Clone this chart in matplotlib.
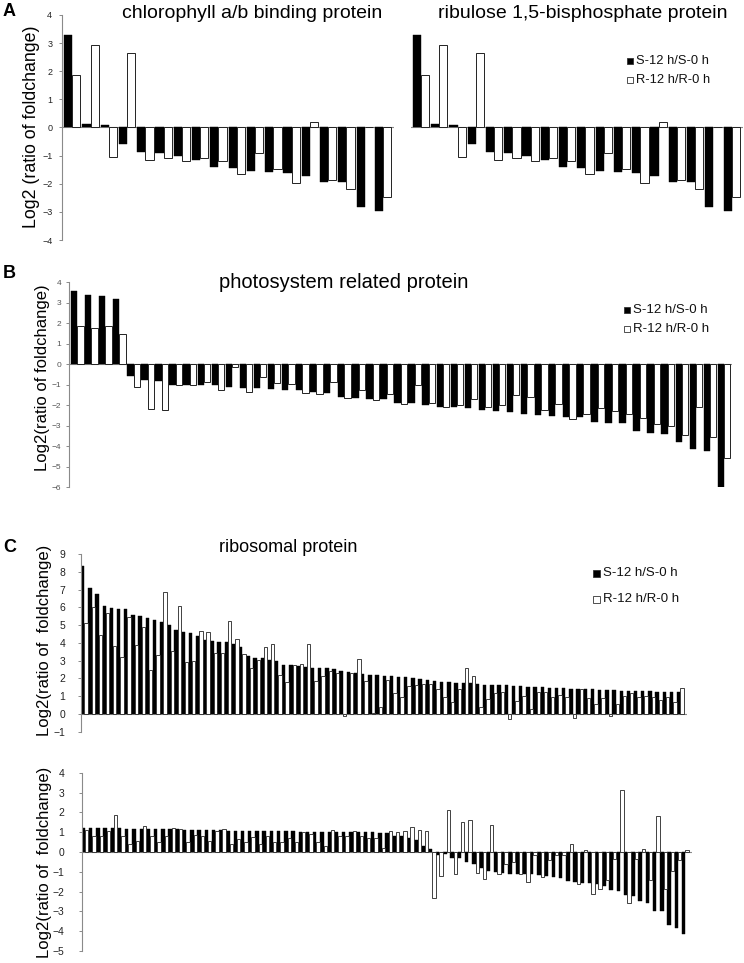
import matplotlib
matplotlib.use("Agg")
import matplotlib.pyplot as plt
from matplotlib.patches import Rectangle
import numpy as np

plt.rcParams['font.family'] = ['Liberation Sans', 'DejaVu Sans']

# ---------------- data ----------------
legend_labels = ["S-12 h/S-0 h", "R-12 h/R-0 h"]

A_titles = ["chlorophyll a/b binding protein", "ribulose 1,5-bisphosphate protein"]
A_s = [3.29, 0.12, 0.08, -0.57, -0.87, -0.92, -1.02, -1.16, -1.42, -1.45, -1.54, -1.59,
       -1.61, -1.72, -1.93, -1.95, -2.84, -2.96]
A_r = [1.85, 2.93, -1.05, 2.65, -1.14, -1.09, -1.18, -1.07, -1.18, -1.64, -0.92, -1.47,
       -1.99, 0.18, -1.85, -2.17, 0.03, -2.46]

B_title = "photosystem related protein"
B_s = [3.54, 3.36, 3.31, 3.15, -0.60, -0.78, -0.82, -1.00, -1.03, -1.04, -1.04, -1.14,
       -1.16, -1.16, -1.20, -1.27, -1.29, -1.39, -1.40, -1.60, -1.66, -1.71,
       -1.73, -1.89, -1.89, -2.02, -2.09, -2.12, -2.17, -2.22, -2.28, -2.33, -2.45, -2.48,
       -2.54, -2.58, -2.58, -2.82, -2.87, -2.89, -3.25, -3.38, -3.43, -3.82, -4.13, -4.26, -6.08]
B_r = [1.83, 1.78, 1.84, 1.45, -1.10, -2.20, -2.25, -1.04, -1.00, -0.88, -1.27, -0.13,
       -1.37, -0.65, -0.95, -0.98, -1.43, -1.48, -0.88, -1.66, -1.27, -1.76,
       -1.48, -1.97, -1.04, -1.92, -2.09, -2.02, -1.70, -2.12, -2.02, -1.52, -1.60, -2.25,
       -1.96, -2.66, -2.45, -2.14, -2.28, -2.45, -2.61, -2.94, -3.00, -3.44, -2.10, -3.57, -4.57]

C_title = "ribosomal protein"
C1_s = [8.30, 7.07, 6.73, 6.10, 5.97, 5.91, 5.89, 5.57, 5.52, 5.38, 5.29, 5.20, 5.03, 4.73,
        4.61, 4.58, 4.39, 4.15, 4.13, 4.07, 4.07, 3.92, 3.79, 3.26, 3.15, 3.15, 3.04, 3.00,
        2.76, 2.76, 2.70, 2.63, 2.59, 2.59, 2.57, 2.53, 2.44, 2.38, 2.29, 2.25, 2.20, 2.18,
        2.16, 2.14, 2.10, 2.06, 2.00, 1.97, 1.91, 1.88, 1.78, 1.78, 1.76, 1.76, 1.73, 1.67,
        1.63, 1.63, 1.60, 1.60, 1.58, 1.58, 1.54, 1.54, 1.50, 1.44, 1.44, 1.44, 1.39, 1.39,
        1.39, 1.39, 1.35, 1.35, 1.35, 1.31, 1.31, 1.31, 1.29, 1.29, 1.26, 1.26, 1.26, 1.26]
C1_r = [5.10, 6.04, 4.43, 5.67, 3.83, 3.19, 5.44, 3.90, 4.88, 2.48, 3.32, 6.85, 3.56, 6.08,
        2.91, 3.00, 4.65, 4.61, 3.41, 3.41, 5.25, 4.20, 3.36, 2.61, 3.04, 3.75, 3.92, 2.20,
        1.82, 2.76, 2.80, 3.92, 1.88, 2.14, 2.40, 2.33, -0.10, 2.29, 3.08, 1.88, 0.05, 0.38,
        1.91, 1.20, 0.94, 1.58, 1.63, 1.69, 1.69, 1.39, 0.98, 0.68, 1.39, 2.57, 2.14, 0.41,
        0.83, 1.20, 1.26, -0.30, 0.75, 1.01, 0.26, 1.26, 1.26, 0.98, 1.07, 0.98, -0.24, 1.39,
        0.88, 0.56, 0.88, -0.10, 0.56, 1.01, 1.20, 0.94, 1.01, 0.98, 0.79, 0.94, 0.68, 1.48]

C2_s = [1.21, 1.21, 1.21, 1.21, 1.21, 1.21, 1.18, 1.18, 1.18, 1.15, 1.15, 1.15, 1.15, 1.15,
        1.13, 1.11, 1.11, 1.09, 1.09, 1.09, 1.08, 1.08, 1.08, 1.06, 1.06, 1.06, 1.04, 1.04,
        1.04, 1.04, 1.03, 1.03, 1.03, 1.01, 1.01, 1.01, 1.01, 1.01, 0.99, 0.99,
        1.00, 0.98, 0.96, 0.82, 0.82, 0.72, 0.62, 0.32, 0.15, -0.13, -0.12, -0.29, -0.29,
        -0.52, -0.59, -0.79, -0.98, -1.03, -1.06, -1.09, -1.13, -1.13, -1.13, -1.18, -1.20,
        -1.26, -1.30, -1.46, -1.52, -1.57, -1.57, -1.63, -1.73, -1.94, -1.99, -2.17, -2.21,
        -2.47, -2.56, -2.98, -2.98, -3.70, -3.82, -4.16]
C2_r = [1.09, 0.79, 0.79, 1.04, 1.85, 0.82, 0.39, 0.56, 1.31, 0.82, 0.49, 0.82, 1.23, 1.18,
        0.49, 0.84, 0.79, 0.54, 1.06, 1.16, 0.39, 0.66, 0.52, 0.76, 0.42, 0.82, 0.52, 0.49,
        0.71, 0.49, 1.01, 0.89, 0.50, 0.29, 1.13, 0.79, 0.82, 1.06, 0.82, 0.69,
        0.72, 0.22, 1.04, 1.00, 1.04, 1.28, 1.11, 1.08, -2.30, -1.20, 2.14, -1.09, 1.53,
        1.63, -1.04, -1.38, 1.36, -1.13, -0.59, -0.50, -1.13, -1.53, -0.13, -1.26, -0.42,
        -0.13, -0.17, 0.42, -1.63, 0.12, -2.14, -1.85, -1.40, -0.34, 3.11, -2.56, -0.34,
        0.15, -1.43, 1.82, -1.85, -0.96, -0.39, 0.08]

y_label_A = "Log2 (ratio of foldchange)"
y_label_B = "Log2(ratio of foldchange)"
y_label_C = "Log2(ratio of  foldchange)"

# ---------------- layout helpers ----------------
W, H = 744, 963
fig = plt.figure(figsize=(W / 100, H / 100), dpi=100)
AXC = '#8a8a8a'


def px_axes(left, top, right, bottom):
    return fig.add_axes([left / W, 1 - bottom / H, (right - left) / W, (bottom - top) / H])


def ftext(x, y, s, **kw):
    fig.text(x / W, 1 - y / H, s, **kw)


def draw_pairs(ax, s, r, w, lw_w=0.7):
    x = np.arange(len(s))
    ax.axhline(0, color=AXC, lw=0.8, zorder=1)
    ax.bar(x - w / 2, s, w, color='black', edgecolor='black', linewidth=0.3, zorder=2)
    ax.bar(x + w / 2, r, w, color='white', edgecolor='#222222', linewidth=lw_w, zorder=2)


def style_axis(ax, ylim, tsize, tcolor, pad, show_y=True):
    ax.set_ylim(*ylim)
    for sp in ['top', 'right', 'bottom']:
        ax.spines[sp].set_visible(False)
    ax.set_xticks([])
    if show_y:
        ax.spines['left'].set_color(AXC)
        ax.spines['left'].set_linewidth(0.8)
        ax.set_yticks(range(ylim[0], ylim[1] + 1))
        ax.tick_params(axis='y', direction='out', length=2.5, width=0.7, color=AXC,
                       labelsize=tsize, labelcolor=tcolor, pad=pad)
    else:
        ax.spines['left'].set_visible(False)
        ax.set_yticks([])
    ax.patch.set_alpha(0)


def legend(x_sq, y1, y2, size, fs, color='#111111'):
    for yy, fc in [(y1, 'black'), (y2, 'white')]:
        fig.add_artist(Rectangle(((x_sq) / W, 1 - (yy + size / 2) / H), size / W, size / H,
                                 transform=fig.transFigure, facecolor=fc,
                                 edgecolor='#333333', linewidth=0.6))
    ftext(x_sq + size + 3, y1, legend_labels[0], fontsize=fs, va='center', ha='left', color=color)
    ftext(x_sq + size + 3, y2, legend_labels[1], fontsize=fs, va='center', ha='left', color=color)


# ---------------- Panel A ----------------
for i, (l, r) in enumerate([(62, 394), (410.7, 742.7)]):
    ax = px_axes(l, 15, r, 240)
    draw_pairs(ax, A_s, A_r, 0.45)
    ax.set_xlim(-0.56, len(A_s) - 0.4)
    style_axis(ax, (-4, 4), 6.5, '#222222', 4.5, show_y=(i == 0))

ftext(252, 13, A_titles[0], fontsize=14, ha='center', va='center')
ftext(583, 13, A_titles[1], fontsize=14, ha='center', va='center')
ftext(3, 12, "A", fontsize=13, fontweight='bold', ha='left', va='center')
ftext(32, 127, y_label_A, fontsize=12.8, rotation=90, ha='center', va='center')
legend(627, 61, 80, 6, 9.3)

# ---------------- Panel B ----------------
ax = px_axes(69, 282, 731.8, 487)
draw_pairs(ax, B_s, B_r, 0.45)
ax.set_xlim(-0.59, len(B_s) - 0.45)
style_axis(ax, (-6, 4), 6, '#555555', 3)
ftext(344, 282, B_title, fontsize=14.5, ha='center', va='center')
ftext(3, 273, "B", fontsize=13, fontweight='bold', ha='left', va='center')
ftext(43, 378, y_label_B, fontsize=12, rotation=90, ha='center', va='center')
legend(624, 310, 329, 6, 9.5)

# ---------------- Panel C (top) ----------------
ax = px_axes(81, 554, 686.8, 731.7)
draw_pairs(ax, C1_s, C1_r, 0.47, lw_w=0.6)
ax.set_xlim(-0.47, len(C1_s) - 0.1)
style_axis(ax, (-1, 9), 7.5, '#222222', 9)
ftext(288, 548, C_title, fontsize=13, ha='center', va='center')
ftext(3, 547, "C", fontsize=13, fontweight='bold', ha='left', va='center')
ftext(45, 640, y_label_C, fontsize=12, rotation=90, ha='center', va='center')
legend(593, 573, 599, 7, 9.5)

# ---------------- Panel C (bottom) ----------------
ax = px_axes(81.7, 772.7, 691.7, 951)
draw_pairs(ax, C2_s, C2_r, 0.47, lw_w=0.6)
ax.set_xlim(-0.47, len(C2_s) - 0.1)
style_axis(ax, (-5, 4), 7.5, '#222222', 10)
ftext(45, 862, y_label_C, fontsize=12, rotation=90, ha='center', va='center')

fig.savefig("out.png", dpi=100)
